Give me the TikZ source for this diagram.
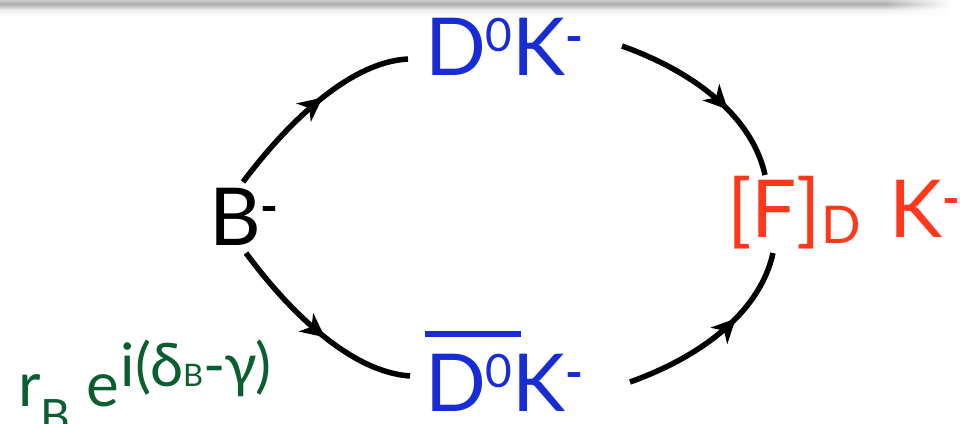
\documentclass[tikz,border=0pt]{standalone}
\usepackage{fontspec}
\setmainfont{Lato}
\usetikzlibrary{arrows.meta,decorations.markings,fadings}

\definecolor{stateblue}{RGB}{24,44,214}
\definecolor{finalred}{RGB}{255,56,28}
\definecolor{ampgreen}{RGB}{11,94,47}

% header shadow along the top edge
\pgfdeclareverticalshading{hdrshadow}{100bp}{color(0bp)=(white); color(25bp)=(white);
  color(45bp)=(black!7); color(62bp)=(black!32); color(75bp)=(black!20); color(100bp)=(black!20)}

% raised / lowered small text for the big labels
\newcommand\upidx[1]{\raisebox{24pt}{\fontsize{46}{46}\selectfont #1}}
\newcommand\upsign{\raisebox{22pt}{\fontsize{48}{48}\selectfont\bfseries -}}
\newcommand\dnidx[1]{\raisebox{-6pt}{\fontsize{52}{52}\selectfont #1}}
% bar over a group of letters
\newcommand\barred[1]{\leavevmode\vbox{\hrule height 6pt\vskip 17pt\hbox{#1\kern 8pt}}\kern-8pt}

\tikzset{
  lbl/.style={inner sep=0pt, outer sep=0pt, anchor=base west, font=\fontsize{80}{80}\selectfont},
  amp/.style={inner sep=0pt, outer sep=0pt, anchor=base west, text=ampgreen, font=\fontsize{62}{62}\selectfont},
  flow/.style={line width=5.5pt, draw=black,
    postaction={decorate},
    decoration={markings, mark=at position #1 with {\arrow{Stealth[length=24pt,width=23pt,inset=7pt]}}}},
}

\begin{document}
\begin{tikzpicture}[x=1pt,y=-1pt]
\useasboundingbox (0,0) rectangle (960,423);

% top shadow band
\shade[shading=hdrshadow] (0,0) rectangle (950,16);
\fill[white, path fading=west] (885,0) rectangle (952,17);

% states
\node[lbl, text=black] (b) at (209,245) {B\upsign};
\node[lbl, text=stateblue] (dk) at (425,75) {D\upidx{0}K\upsign};
\node[lbl, text=stateblue] (dbk) at (425,411) {\barred{D\upidx{0}}K\upsign};
\node[lbl, text=finalred] (fk) at (727,237) {[F]\dnidx{D}\hspace{8pt} K\upsign};

% relative amplitude of the suppressed path
\node[amp] (amp) at (18,406) {r\raisebox{-26pt}{\fontsize{46}{46}\selectfont B} e\hspace{2pt}\raisebox{20pt}{\fontsize{60}{60}\selectfont i(δ\fontsize{31}{31}\selectfont B\fontsize{60}{60}\selectfont -γ)}};

% connector end points
\coordinate (b-up) at (243,182);
\coordinate (b-dn) at (246,253);
\coordinate (dk-in) at (408,59);
\coordinate (dbk-in) at (410,376);
\coordinate (dk-out) at (622,46);
\coordinate (dbk-out) at (630,382);
\coordinate (fk-up) at (765,175);
\coordinate (fk-dn) at (773,253);

% decay paths
\draw[flow=0.55] (b-up) .. controls (288,122) and (350,62) .. (dk-in);
\draw[flow=0.55] (b-dn) .. controls (291,314) and (352,372) .. (dbk-in);
\draw[flow=0.62] (dk-out) .. controls (700,74) and (753,120) .. (fk-up);
\draw[flow=0.62] (dbk-out) .. controls (708,354) and (761,308) .. (fk-dn);
\end{tikzpicture}
\end{document}
